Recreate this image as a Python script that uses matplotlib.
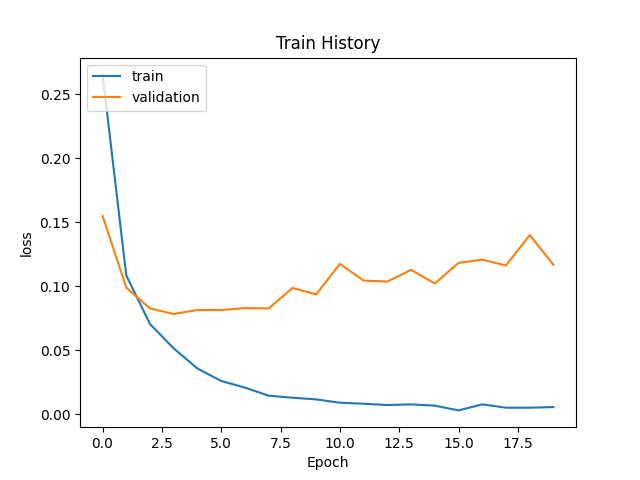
import matplotlib
matplotlib.use('Agg')
import matplotlib.pyplot as plt

# loss per epoch
train_loss = [0.2655, 0.1085, 0.0705, 0.0515, 0.0358, 0.0261, 0.0209, 0.0146, 0.0130, 0.0117,
              0.0091, 0.0083, 0.0073, 0.0078, 0.0068, 0.0031, 0.0078, 0.0052, 0.0052, 0.0057]
val_loss = [0.155, 0.099, 0.0827, 0.0784, 0.0815, 0.0815, 0.0830, 0.0827, 0.0987, 0.0937,
            0.1175, 0.1045, 0.1037, 0.1129, 0.1022, 0.1183, 0.1208, 0.1163, 0.1400, 0.1168]

fig = plt.figure(figsize=(6.4, 4.8), dpi=100)
plt.plot(train_loss)
plt.plot(val_loss)
plt.title('Train History')
plt.ylabel('loss')
plt.xlabel('Epoch')
plt.legend(['train', 'validation'], loc='upper left')
plt.savefig('out.png')
